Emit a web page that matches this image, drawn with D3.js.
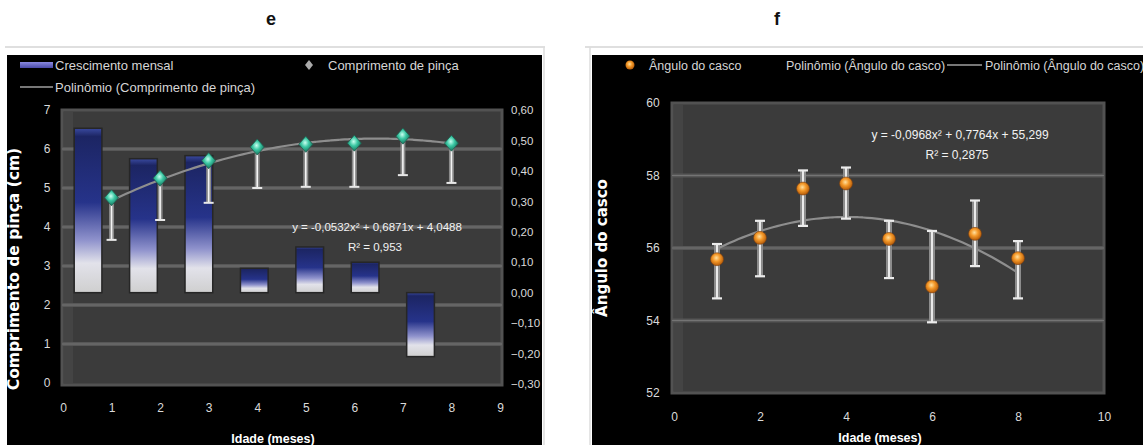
<!DOCTYPE html>
<html><head><meta charset="utf-8">
<script src="https://cdn.jsdelivr.net/npm/d3@7"></script>
<style>
html,body{margin:0;padding:0;background:#fff;}
svg{display:block;}
.narrow{font-family:"Liberation Sans","Arial",sans-serif;}
.bold{font-family:"DejaVu Sans","Verdana",sans-serif;font-weight:bold;}
.boldA{font-family:"Liberation Sans","Arial",sans-serif;font-weight:bold;}
</style></head>
<body><svg id="c" width="1143" height="445"></svg>
<script>
// ---------- panel e: claw length and monthly growth ----------
const months = [1, 2, 3, 4, 5, 6, 7, 8];
const clawLength = [4.75, 5.25, 5.70, 6.05, 6.12, 6.15, 6.33, 6.15];
const clawLower = [3.67, 4.18, 4.62, 5.00, 5.03, 5.03, 5.33, 5.13];
const growthSlots = [0, 1, 2, 3, 4, 5, 6, 7];
const monthlyGrowth = [0.54, 0.44, 0.45, 0.08, 0.15, 0.10, -0.21];
const clawYTicks = [0, 1, 2, 3, 4, 5, 6, 7];
const growthYTicks = [-0.3, -0.2, -0.1, 0, 0.1, 0.2, 0.3, 0.4, 0.5, 0.6];
const clawXTicks = [0, 1, 2, 3, 4, 5, 6, 7, 8, 9];
const clawPoly = [-0.0532, 0.6871, 4.0488];
const clawR2 = "0,953";

// ---------- panel f: hoof angle ----------
const hoofAngle = [55.69, 56.28, 57.64, 57.78, 56.25, 54.94, 56.39, 55.72];
const hoofUpper = [56.11, 56.75, 58.14, 58.22, 56.75, 56.47, 57.31, 56.19];
const hoofLower = [54.61, 55.22, 56.61, 56.81, 55.17, 53.95, 55.50, 54.61];
const hoofYTicks = [52, 54, 56, 58, 60];
const hoofXTicks = [0, 2, 4, 6, 8, 10];
const hoofPoly = [-0.0968, 0.7764, 55.299];
const hoofR2 = "0,2875";

const svg = d3.select("#c");
const defs = svg.append("defs");
const comma = s => String(s).replace(".", ",");
const polyAt = (c, x) => c[0] * x * x + c[1] * x + c[2];
const polyLabel = c => "y = " + comma(c[0]) + "x² + " + comma(c[1]) + "x + " + comma(c[2]);

// gradients
const bg = defs.append("linearGradient").attr("id", "barFill")
  .attr("x1", 0).attr("y1", 0).attr("x2", 0).attr("y2", 1);
[[0, "#3a4aa0"], [0.05, "#1c2563"], [0.45, "#26338a"], [0.68, "#8f92cc"], [0.82, "#e2e2ea"], [1, "#cfcfcf"]]
  .forEach(([o, c]) => bg.append("stop").attr("offset", o).attr("stop-color", c));
const tg = defs.append("radialGradient").attr("id", "tealDot").attr("cx", "45%").attr("cy", "40%").attr("r", "60%");
[[0, "#c8fff0"], [0.45, "#3cc8a4"], [1, "#15705a"]]
  .forEach(([o, c]) => tg.append("stop").attr("offset", o).attr("stop-color", c));
const og = defs.append("radialGradient").attr("id", "orangeDot").attr("cx", "45%").attr("cy", "40%").attr("r", "60%");
[[0, "#ffe0a0"], [0.45, "#f59a2a"], [1, "#b45a08"]]
  .forEach(([o, c]) => og.append("stop").attr("offset", o).attr("stop-color", c));
const lg = defs.append("linearGradient").attr("id", "swatch").attr("x1", 0).attr("x2", 0).attr("y1", 0).attr("y2", 1);
[[0, "#8a8ae0"], [1, "#4a4aa8"]].forEach(([o, c]) => lg.append("stop").attr("offset", o).attr("stop-color", c));

// panel captions
svg.append("text").attr("x", 271).attr("y", 25).attr("text-anchor", "middle")
  .attr("font-family", "Liberation Sans, Arial, sans-serif").attr("font-weight", "bold")
  .attr("font-size", 18).attr("fill", "#111").text("e");
svg.append("text").attr("x", 777).attr("y", 25).attr("text-anchor", "middle")
  .attr("font-family", "Liberation Sans, Arial, sans-serif").attr("font-weight", "bold")
  .attr("font-size", 18).attr("fill", "#111").text("f");

// chart area frames
svg.append("line").attr("x1", 5).attr("x2", 545).attr("y1", 47).attr("y2", 47).attr("stroke", "#d4d4d4").attr("stroke-width", 1.5);
svg.append("line").attr("x1", 544).attr("x2", 544).attr("y1", 47).attr("y2", 445).attr("stroke", "#dcdcdc").attr("stroke-width", 1.5);
svg.append("rect").attr("x", 7).attr("y", 55).attr("width", 535).attr("height", 390).attr("fill", "#000");
svg.append("line").attr("x1", 585).attr("x2", 1143).attr("y1", 47).attr("y2", 47).attr("stroke", "#d4d4d4").attr("stroke-width", 1.5);
svg.append("line").attr("x1", 590).attr("x2", 590).attr("y1", 47).attr("y2", 445).attr("stroke", "#dcdcdc").attr("stroke-width", 1.5);
svg.append("rect").attr("x", 592).attr("y", 55).attr("width", 551).attr("height", 390).attr("fill", "#000");

function plotBg(x0, x1, y0, y1) {
  svg.append("rect").attr("x", x0).attr("y", y0).attr("width", x1 - x0).attr("height", y1 - y0)
    .attr("fill", "#3b3b3b").attr("stroke", "#525252").attr("stroke-width", 3);
  svg.append("rect").attr("x", x0 + 2).attr("y", y0 + 2).attr("width", 9).attr("height", y1 - y0 - 4)
    .attr("fill", "#444");
}
function gridLines(values, y, x0, x1) {
  const g = svg.append("g");
  g.selectAll("line.a").data(values).join("line").attr("class", "a")
    .attr("x1", x0).attr("x2", x1).attr("y1", d => y(d)).attr("y2", d => y(d))
    .attr("stroke", "#575757").attr("stroke-width", 4);
  g.selectAll("line.b").data(values).join("line").attr("class", "b")
    .attr("x1", x0).attr("x2", x1).attr("y1", d => y(d)).attr("y2", d => y(d))
    .attr("stroke", "#747474").attr("stroke-width", 1.2);
}
function styleAxis(g, size) {
  g.select(".domain").remove();
  g.selectAll("text").attr("class", "narrow").attr("font-size", size).attr("fill", "#dadada");
}

// ================= panel e =================
const eL = 62, eR = 502, eT = 110, eB = 385;
const xE = d3.scaleLinear().domain([0, 9]).range([63, 500]);
const yClaw = d3.scaleLinear().domain([0, 7]).range([383, 110]);
const yGrowth = d3.scaleLinear().domain([-0.3, 0.6]).range([384, 110]);
const xSlot = d3.scaleBand().domain(growthSlots).range([eL, eR]).paddingInner(0.5).paddingOuter(0.22);

plotBg(eL, eR, eT, eB);
gridLines(clawYTicks.slice(1, -1), yClaw, eL, eR);

// monthly growth bars on the secondary axis
svg.append("g").selectAll("rect").data(monthlyGrowth).join("rect")
  .attr("x", (d, i) => xSlot(growthSlots[i]))
  .attr("width", xSlot.bandwidth())
  .attr("y", d => yGrowth(Math.max(0, d)))
  .attr("height", d => Math.abs(yGrowth(d) - yGrowth(0)))
  .attr("fill", "url(#barFill)").attr("stroke", "#262626").attr("stroke-width", 1.5);

// fitted polynomial for claw length
const trendLine = d3.line().curve(d3.curveMonotoneX);
const clawFit = d3.range(months[0], months[months.length - 1] + 0.001, 0.1).map(x => [xE(x), yClaw(polyAt(clawPoly, x))]);
svg.append("path").attr("d", trendLine(clawFit)).attr("fill", "none").attr("stroke", "#8e8e8e").attr("stroke-width", 2.2);

// claw length error bars (minus direction)
const eb = svg.append("g");
eb.selectAll("line.o").data(months).join("line").attr("class", "o")
  .attr("x1", d => xE(d)).attr("x2", d => xE(d))
  .attr("y1", (d, i) => yClaw(clawLength[i])).attr("y2", (d, i) => yClaw(clawLower[i]))
  .attr("stroke", "#8a8a8a").attr("stroke-width", 5);
eb.selectAll("line.i").data(months).join("line").attr("class", "i")
  .attr("x1", d => xE(d)).attr("x2", d => xE(d))
  .attr("y1", (d, i) => yClaw(clawLength[i])).attr("y2", (d, i) => yClaw(clawLower[i]))
  .attr("stroke", "#f4f4f4").attr("stroke-width", 1.6);
eb.selectAll("line.c").data(months).join("line").attr("class", "c")
  .attr("x1", d => xE(d) - 5).attr("x2", d => xE(d) + 5)
  .attr("y1", (d, i) => yClaw(clawLower[i])).attr("y2", (d, i) => yClaw(clawLower[i]))
  .attr("stroke", "#e8e8e8").attr("stroke-width", 2);

// claw length markers
const diamond = (w, h) => `M0,${-h}L${w},0L0,${h}L${-w},0Z`;
svg.append("g").selectAll("path").data(months).join("path")
  .attr("transform", (d, i) => `translate(${xE(d)},${yClaw(clawLength[i])})`)
  .attr("d", diamond(7, 8)).attr("fill", "url(#tealDot)").attr("stroke", "#1f5f50").attr("stroke-width", 0.8);

// axes
const axL = svg.append("g").attr("transform", "translate(47,0)")
  .call(d3.axisLeft(yClaw).tickValues(clawYTicks).tickSize(0).tickFormat(d3.format("d")));
styleAxis(axL, 12);
axL.selectAll("text").attr("x", 0).attr("text-anchor", "middle");
const axR = svg.append("g").attr("transform", "translate(511,0)")
  .call(d3.axisRight(yGrowth).tickValues(growthYTicks).tickSize(0).tickPadding(0)
    .tickFormat(d => comma(d3.format(".2f")(d))));
styleAxis(axR, 11.5);
const axB = svg.append("g").attr("transform", "translate(0,403)")
  .call(d3.axisBottom(xE).tickValues(clawXTicks).tickSize(0).tickPadding(0).tickFormat(d3.format("d")));
styleAxis(axB, 12);

// equation
svg.append("text").attr("class", "narrow").attr("x", 377).attr("y", 231).attr("text-anchor", "middle")
  .attr("font-size", 11.5).attr("fill", "#f2f2f2").text(polyLabel(clawPoly));
svg.append("text").attr("class", "narrow").attr("x", 375).attr("y", 251).attr("text-anchor", "middle")
  .attr("font-size", 11.5).attr("fill", "#f2f2f2").text("R² = " + clawR2);

// axis titles
svg.append("text").attr("class", "bold").attr("transform", "translate(19,269) rotate(-90)")
  .attr("text-anchor", "middle").attr("font-size", 15.5).attr("fill", "#fff").text("Comprimento de pinça (cm)");
svg.append("text").attr("class", "boldA").attr("x", 273).attr("y", 443).attr("text-anchor", "middle")
  .attr("font-size", 12.5).attr("fill", "#fff").text("Idade (meses)");

// legend
svg.append("rect").attr("x", 20).attr("y", 62).attr("width", 33).attr("height", 6).attr("fill", "url(#swatch)");
svg.append("text").attr("class", "narrow").attr("x", 55).attr("y", 69.5).attr("font-size", 13).attr("fill", "#d6d6d6").text("Crescimento mensal");
svg.append("path").attr("transform", "translate(309,65)").attr("d", diamond(4, 5)).attr("fill", "#aaa");
svg.append("text").attr("class", "narrow").attr("x", 328).attr("y", 69.5).attr("font-size", 13).attr("fill", "#d6d6d6").text("Comprimento de pinça");
svg.append("line").attr("x1", 20).attr("x2", 53).attr("y1", 87).attr("y2", 87).attr("stroke", "#777").attr("stroke-width", 2);
svg.append("text").attr("class", "narrow").attr("x", 55).attr("y", 91.5).attr("font-size", 13).attr("fill", "#d6d6d6").text("Polinômio (Comprimento de pinça)");

// ================= panel f =================
const fL = 672, fR = 1104, fT = 103, fB = 393;
const xF = d3.scaleLinear().domain([0, 10]).range([674, 1104]);
const yHoof = d3.scaleLinear().domain([52, 60]).range([393, 103]);

plotBg(fL, fR, fT, fB);
gridLines(hoofYTicks.slice(1, -1), yHoof, fL, fR);

const hoofFit = d3.range(months[0], months[months.length - 1] + 0.001, 0.1).map(x => [xF(x), yHoof(polyAt(hoofPoly, x))]);
svg.append("path").attr("d", trendLine(hoofFit)).attr("fill", "none").attr("stroke", "#8e8e8e").attr("stroke-width", 2.2);

const fb = svg.append("g");
fb.selectAll("line.o").data(months).join("line").attr("class", "o")
  .attr("x1", d => xF(d)).attr("x2", d => xF(d))
  .attr("y1", (d, i) => yHoof(hoofUpper[i])).attr("y2", (d, i) => yHoof(hoofLower[i]))
  .attr("stroke", "#8c8c8c").attr("stroke-width", 6);
fb.selectAll("line.i").data(months).join("line").attr("class", "i")
  .attr("x1", d => xF(d)).attr("x2", d => xF(d))
  .attr("y1", (d, i) => yHoof(hoofUpper[i])).attr("y2", (d, i) => yHoof(hoofLower[i]))
  .attr("stroke", "#f4f4f4").attr("stroke-width", 1.8);
["u", "l"].forEach(k => {
  const src = k === "u" ? hoofUpper : hoofLower;
  fb.selectAll("line.c" + k).data(months).join("line").attr("class", "c" + k)
    .attr("x1", d => xF(d) - 5).attr("x2", d => xF(d) + 5)
    .attr("y1", (d, i) => yHoof(src[i])).attr("y2", (d, i) => yHoof(src[i]))
    .attr("stroke", "#ececec").attr("stroke-width", 2.2);
});

svg.append("g").selectAll("circle").data(months).join("circle")
  .attr("cx", d => xF(d)).attr("cy", (d, i) => yHoof(hoofAngle[i])).attr("r", 6.5)
  .attr("fill", "url(#orangeDot)").attr("stroke", "#7a4010").attr("stroke-width", 0.6);

const axFL = svg.append("g").attr("transform", "translate(653,0)")
  .call(d3.axisLeft(yHoof).tickValues(hoofYTicks).tickSize(0).tickFormat(d3.format("d")));
styleAxis(axFL, 12);
axFL.selectAll("text").attr("x", 0).attr("text-anchor", "middle");
const axFB = svg.append("g").attr("transform", "translate(0,412)")
  .call(d3.axisBottom(xF).tickValues(hoofXTicks).tickSize(0).tickPadding(0).tickFormat(d3.format("d")));
styleAxis(axFB, 12);

svg.append("text").attr("class", "narrow").attr("x", 960).attr("y", 139).attr("text-anchor", "middle")
  .attr("font-size", 12).attr("fill", "#f2f2f2").text(polyLabel(hoofPoly));
svg.append("text").attr("class", "narrow").attr("x", 957).attr("y", 159).attr("text-anchor", "middle")
  .attr("font-size", 12).attr("fill", "#f2f2f2").text("R² = " + hoofR2);

svg.append("text").attr("class", "bold").attr("transform", "translate(607,248) rotate(-90)")
  .attr("text-anchor", "middle").attr("font-size", 15).attr("fill", "#fff").text("Ângulo do casco");
svg.append("text").attr("class", "boldA").attr("x", 880).attr("y", 442).attr("text-anchor", "middle")
  .attr("font-size", 12.5).attr("fill", "#fff").text("Idade (meses)");

// legend
svg.append("circle").attr("cx", 630).attr("cy", 65).attr("r", 4.5).attr("fill", "url(#orangeDot)");
svg.append("text").attr("class", "narrow").attr("x", 649).attr("y", 69.5).attr("font-size", 12.5).attr("fill", "#d6d6d6").text("Ângulo do casco");
svg.append("text").attr("class", "narrow").attr("x", 786).attr("y", 69.5).attr("font-size", 12.5).attr("fill", "#d6d6d6").text("Polinômio (Ângulo do casco)");
svg.append("line").attr("x1", 947).attr("x2", 982).attr("y1", 65).attr("y2", 65).attr("stroke", "#777").attr("stroke-width", 2);
svg.append("text").attr("class", "narrow").attr("x", 985).attr("y", 69.5).attr("font-size", 12.5).attr("fill", "#d6d6d6").text("Polinômio (Ângulo do casco)");
</script></body></html>
